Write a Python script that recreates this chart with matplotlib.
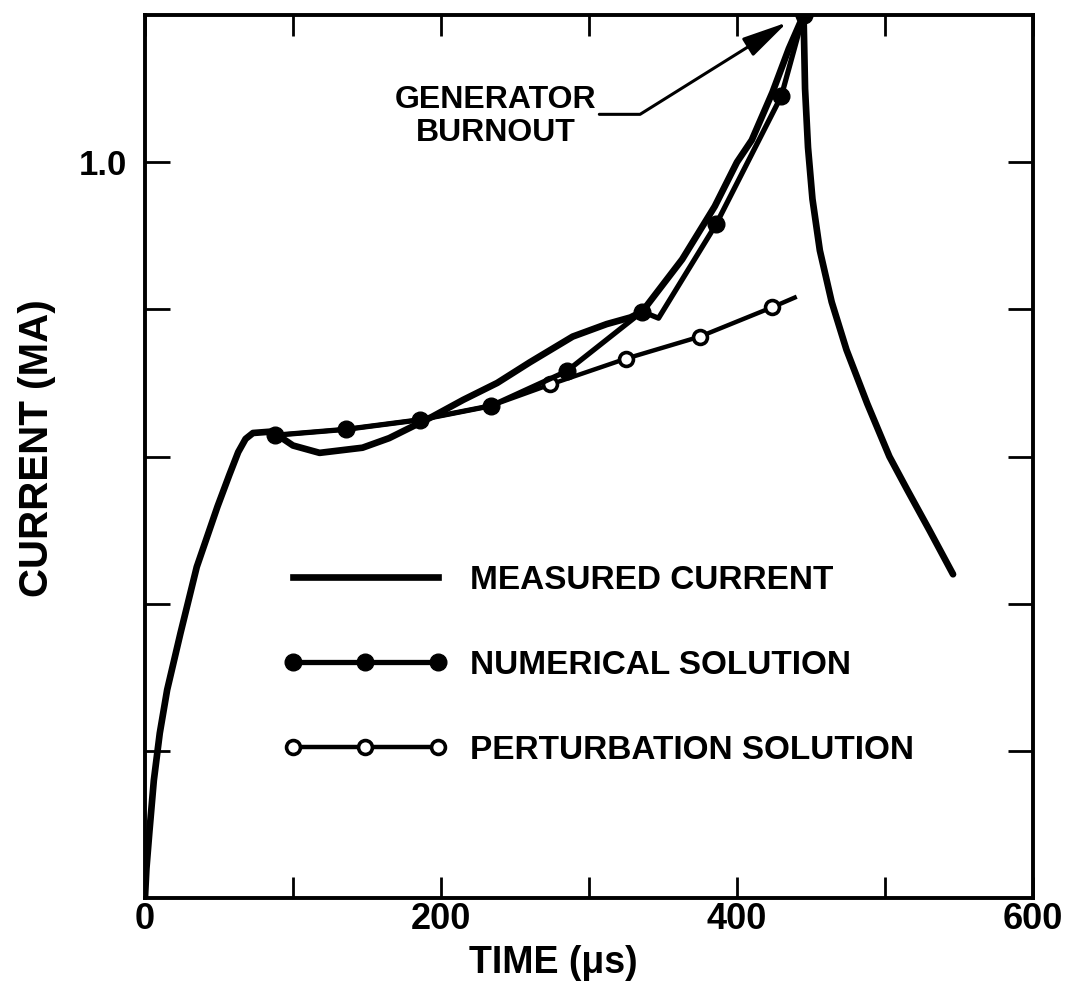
import matplotlib
matplotlib.use("Agg")
import matplotlib.pyplot as plt
from matplotlib.lines import Line2D

# ---- data ----
t_meas = [0, 1, 3, 6, 10, 15, 24, 35, 49, 57, 63, 68, 73, 86, 100, 118, 147,
          165, 184, 194, 215, 238, 260, 289, 312, 328, 336, 363, 385, 400, 410,
          424, 435, 445, 446, 448, 451, 456, 464, 474, 488, 503, 515, 530, 546]
i_meas = [0.0, 0.04, 0.09, 0.16, 0.224, 0.283, 0.36, 0.45, 0.532, 0.575, 0.606,
          0.624, 0.632, 0.634, 0.615, 0.605, 0.612, 0.625, 0.644, 0.654, 0.677,
          0.700, 0.728, 0.763, 0.780, 0.789, 0.797, 0.868, 0.940, 1.000, 1.030,
          1.095, 1.154, 1.200, 1.100, 1.020, 0.950, 0.880, 0.810, 0.745, 0.672,
          0.600, 0.555, 0.500, 0.440]

t_num = [88, 136, 186, 234, 285, 336, 347, 386, 430, 445]
i_num = [0.629, 0.637, 0.650, 0.669, 0.716, 0.797, 0.788, 0.916, 1.090, 1.200]
num_marked = [0, 1, 2, 3, 4, 5, 7, 8, 9]

t_pert = [88, 136, 186, 234, 274, 325, 375, 424, 439]
i_pert = [0.629, 0.637, 0.650, 0.669, 0.698, 0.733, 0.763, 0.803, 0.816]
pert_marked = [4, 5, 6, 7]

x_ticks = [0, 100, 200, 300, 400, 500, 600]
x_labels = ["0", "", "200", "", "400", "", "600"]
y_ticks = [0.2, 0.4, 0.6, 0.8, 1.0]
y_labels = ["", "", "", "", "1.0"]

labels = ["MEASURED CURRENT", "NUMERICAL SOLUTION", "PERTURBATION SOLUTION"]
note_text = "GENERATOR\nBURNOUT"
note_pos = (237, 1.062)
arrow_start = (307, 1.065)
arrow_tip = (434, 1.19)

# ---- figure ----
FONT = "Liberation Sans"
fig = plt.figure(figsize=(10.69, 9.99), dpi=100)
ax = fig.add_axes([0.1356, 0.101, 0.8307, 0.884])

ax.plot(t_pert, i_pert, color="black", lw=3.2, marker="o", ms=10,
        mfc="white", mec="black", mew=2.6, markevery=pert_marked, zorder=2)
ax.plot(t_num, i_num, color="black", lw=3.8, marker="o", ms=12,
        mfc="black", mec="black", markevery=num_marked, zorder=3)
ax.plot(t_meas, i_meas, color="black", lw=4.8, solid_joinstyle="round",
        solid_capstyle="round", zorder=4)

ax.set_xlim(0, 600)
ax.set_ylim(0, 1.2)
ax.set_xticks(x_ticks)
ax.set_xticklabels(x_labels)
ax.set_yticks(y_ticks)
ax.set_yticklabels(y_labels)
ax.tick_params(axis="both", direction="in", top=True, right=True, width=2)
ax.tick_params(axis="x", length=15, pad=3, labelsize=26)
ax.tick_params(axis="y", length=18, pad=13, labelsize=25)
for lab in ax.get_xticklabels() + ax.get_yticklabels():
    lab.set_fontweight("bold")
    lab.set_family(FONT)
for sp in ax.spines.values():
    sp.set_linewidth(2.8)

ax.set_xlabel("TIME (\u03bcs)", fontsize=27, fontweight="bold", family=FONT)
ax.xaxis.set_label_coords(0.46, -0.053)
ax.set_ylabel("CURRENT (MA)", fontsize=29, fontweight="bold", family=FONT)
ax.yaxis.set_label_coords(-0.10, 0.51)

ax.text(note_pos[0], note_pos[1], note_text, ha="center", va="center",
        fontsize=23, fontweight="bold", family=FONT, linespacing=1.15)
ax.annotate("", xy=arrow_tip, xytext=arrow_start,
            arrowprops=dict(arrowstyle="-|>,head_length=1.4,head_width=0.32",
                            connectionstyle="angle,angleA=0,angleB=32,rad=0",
                            lw=2.2, color="black", shrinkA=0, shrinkB=0,
                            mutation_scale=20))

handles = [
    Line2D([], [], color="black", lw=4.8),
    Line2D([], [], color="black", lw=3.8, marker="o", ms=12, mfc="black"),
    Line2D([], [], color="black", lw=3.2, marker="o", ms=10, mfc="white",
           mec="black", mew=2.6),
]
leg = ax.legend(handles, labels, loc="upper left", bbox_to_anchor=(0.155, 0.377),
                frameon=False, numpoints=3, handlelength=4.95, handletextpad=0.66,
                labelspacing=1.62, borderpad=0, borderaxespad=0,
                prop=dict(family=FONT, weight="bold", size=24))

fig.savefig("out.png", dpi=100)
